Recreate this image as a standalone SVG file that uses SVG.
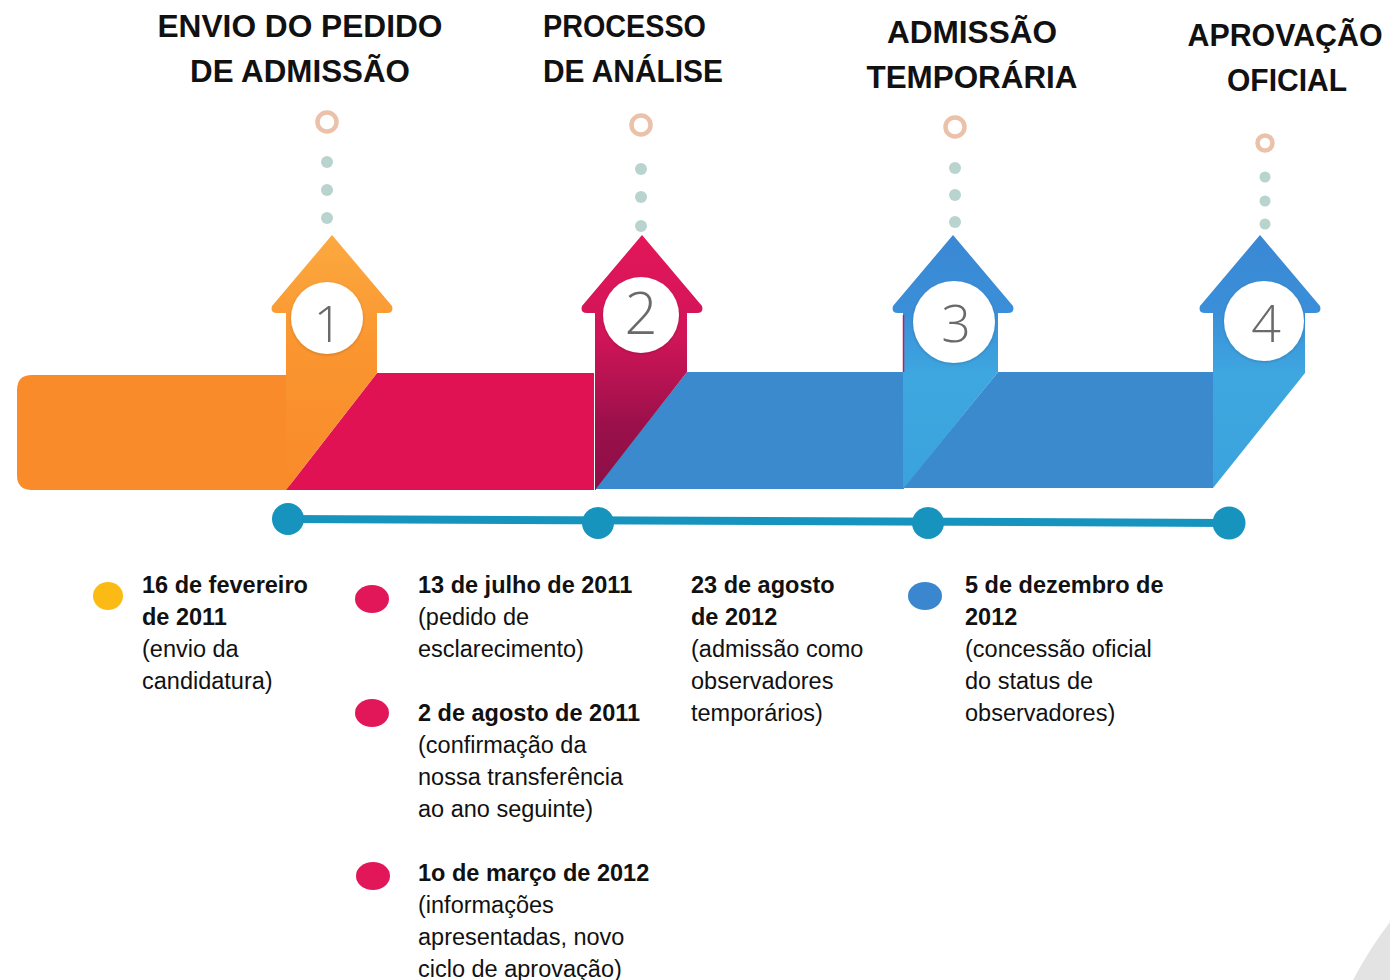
<svg xmlns="http://www.w3.org/2000/svg" width="1390" height="980" viewBox="0 0 1390 980">
<style>
.h{font-family:"Liberation Sans",Arial,sans-serif;font-weight:bold;font-size:31px;fill:#111;}
.b{font-family:"Liberation Sans",Arial,sans-serif;font-size:23.5px;fill:#111;}
.bb{font-weight:bold;}
.num{font-family:"Open Sans","Liberation Sans",sans-serif;font-weight:300;fill:#6a6a6a;text-anchor:middle;}
.ring{fill:none;stroke:#ecc1aa;stroke-width:4.5;}
.dot{fill:#b9d4ce;}
.nc{fill:#fff;filter:url(#sh);}
.td{fill:#1794bd;}
</style>
<defs>
<linearGradient id="gO" gradientUnits="userSpaceOnUse" x1="0" y1="235" x2="0" y2="490">
<stop offset="0" stop-color="#fca940"/><stop offset="0.45" stop-color="#fa952f"/><stop offset="1" stop-color="#f98a2a"/>
</linearGradient>
<linearGradient id="gP" gradientUnits="userSpaceOnUse" x1="0" y1="235" x2="0" y2="490">
<stop offset="0" stop-color="#e4165a"/><stop offset="0.4" stop-color="#d01558"/><stop offset="0.75" stop-color="#9a104a"/><stop offset="1" stop-color="#8c0f47"/>
</linearGradient>
<linearGradient id="gB" gradientUnits="userSpaceOnUse" x1="0" y1="235" x2="0" y2="490">
<stop offset="0" stop-color="#3a88d4"/><stop offset="0.3" stop-color="#3a8fd8"/><stop offset="0.55" stop-color="#3ea7e0"/><stop offset="1" stop-color="#3aa2dc"/>
</linearGradient>
<filter id="sh" x="-20%" y="-20%" width="140%" height="140%">
<feDropShadow dx="0" dy="1" stdDeviation="1.5" flood-color="#000" flood-opacity="0.18"/>
</filter>
</defs>

<g id="headings">
<text class="h" x="300" y="37" text-anchor="middle" textLength="285" lengthAdjust="spacingAndGlyphs">ENVIO DO PEDIDO</text>
<text class="h" x="300" y="82" text-anchor="middle" textLength="220" lengthAdjust="spacingAndGlyphs">DE ADMISSÃO</text>
<text class="h" x="543" y="37" textLength="163" lengthAdjust="spacingAndGlyphs">PROCESSO</text>
<text class="h" x="543" y="82" textLength="180" lengthAdjust="spacingAndGlyphs">DE ANÁLISE</text>
<text class="h" x="972" y="43" text-anchor="middle" textLength="170" lengthAdjust="spacingAndGlyphs">ADMISSÃO</text>
<text class="h" x="972" y="88" text-anchor="middle" textLength="211" lengthAdjust="spacingAndGlyphs">TEMPORÁRIA</text>
<text class="h" x="1285" y="46" text-anchor="middle" textLength="195" lengthAdjust="spacingAndGlyphs">APROVAÇÃO</text>
<text class="h" x="1287" y="91" text-anchor="middle" textLength="120" lengthAdjust="spacingAndGlyphs">OFICIAL</text>
</g>

<g id="bands">
<path d="M32,375 H290 V490 H32 Q17,490 17,475 V390 Q17,375 32,375 Z" fill="#f98b2b"/>
<path d="M377,373 H596 V490 H286 Z" fill="#e01254"/>
<path d="M687,372 H904 V489 H595 Z" fill="#3a8acd"/>
<path d="M998,372 H1213 V488 H903 Z" fill="#3a8acd"/>
</g>

<g id="connectors">
<line x1="288" y1="519" x2="1229" y2="523" stroke="#1794bd" stroke-width="8"/>
</g>

<g id="step1">
<circle class="ring" cx="327" cy="122" r="9.5"/>
<circle class="dot" cx="327" cy="162" r="6"/>
<circle class="dot" cx="327" cy="190" r="6"/>
<circle class="dot" cx="327" cy="218" r="6"/>
<path d="M332,235 L392,306 Q394,313 387,313 L377,313 L377,373 L286,490 L286,313 L277,313 Q270,313 272,306 Z" fill="url(#gO)"/>
<circle class="nc" cx="327" cy="318" r="36"/>
<text class="num" x="328" y="342" font-size="50">1</text>
<circle class="td" cx="288" cy="519" r="16"/>
</g>

<g id="step2">
<circle class="ring" cx="641" cy="125" r="9.5"/>
<circle class="dot" cx="641" cy="169" r="6"/>
<circle class="dot" cx="641" cy="197" r="6"/>
<circle class="dot" cx="641" cy="226" r="6"/>
<path d="M642,235 L702,306 Q704,313 697,313 L687,313 L687,372 L595,490 L595,313 L587,313 Q580,313 582,306 Z" fill="url(#gP)"/>
<line x1="594.5" y1="373" x2="594.5" y2="490" stroke="#fff" stroke-width="1"/>
<circle class="nc" cx="641" cy="315" r="38"/>
<text class="num" x="641" y="334" font-size="58">2</text>
<circle class="td" cx="598" cy="523" r="16"/>
</g>

<g id="step3">
<circle class="ring" cx="955" cy="127" r="9.5"/>
<circle class="dot" cx="955" cy="168" r="6"/>
<circle class="dot" cx="955" cy="195" r="6"/>
<circle class="dot" cx="955" cy="222" r="6"/>
<path d="M953,235 L1013,306 Q1015,313 1008,313 L998,313 L998,372 L903,489 L903,313 L898,313 Q891,313 893,306 Z" fill="url(#gB)"/>
<line x1="903.5" y1="315" x2="903.5" y2="372" stroke="#d0145a" stroke-width="1.5"/>
<circle class="nc" cx="954" cy="322" r="41"/>
<text class="num" x="956" y="342" font-size="52">3</text>
<circle class="td" cx="928" cy="523" r="16"/>
</g>

<g id="step4">
<circle class="ring" cx="1265" cy="143" r="7.5" stroke-width="4"/>
<circle class="dot" cx="1265" cy="177" r="5.5"/>
<circle class="dot" cx="1265" cy="201" r="5.5"/>
<circle class="dot" cx="1265" cy="224" r="5.5"/>
<path d="M1260,235 L1320,306 Q1322,313 1315,313 L1305,313 L1305,373 L1213,488 L1213,313 L1205,313 Q1198,313 1200,306 Z" fill="url(#gB)"/>
<circle class="nc" cx="1264" cy="321" r="40"/>
<text class="num" x="1266" y="342" font-size="52">4</text>
<circle class="td" cx="1229" cy="523" r="16.5"/>
</g>

<g id="event1">
<ellipse cx="108" cy="596" rx="15" ry="14" fill="#fbbb14"/>
<text class="b" x="142" y="593"><tspan class="bb">16 de fevereiro</tspan><tspan class="bb" x="142" dy="32">de 2011</tspan><tspan x="142" dy="32">(envio da</tspan><tspan x="142" dy="32">candidatura)</tspan></text>
</g>

<g id="event2">
<ellipse cx="372" cy="599" rx="17" ry="14" fill="#e2175a"/>
<text class="b" x="418" y="593"><tspan class="bb">13 de julho de 2011</tspan><tspan x="418" dy="32">(pedido de</tspan><tspan x="418" dy="32">esclarecimento)</tspan></text>
</g>

<g id="event3">
<ellipse cx="372" cy="713" rx="17" ry="14" fill="#e2175a"/>
<text class="b" x="418" y="721"><tspan class="bb">2 de agosto de 2011</tspan><tspan x="418" dy="32">(confirmação da</tspan><tspan x="418" dy="32">nossa transferência</tspan><tspan x="418" dy="32">ao ano seguinte)</tspan></text>
</g>

<g id="event4">
<ellipse cx="373" cy="876" rx="17" ry="14" fill="#e2175a"/>
<text class="b" x="418" y="881"><tspan class="bb">1o de março de 2012</tspan><tspan x="418" dy="32">(informações</tspan><tspan x="418" dy="32">apresentadas, novo</tspan><tspan x="418" dy="32">ciclo de aprovação)</tspan></text>
</g>

<g id="event5">
<text class="b" x="691" y="593"><tspan class="bb">23 de agosto</tspan><tspan class="bb" x="691" dy="32">de 2012</tspan><tspan x="691" dy="32">(admissão como</tspan><tspan x="691" dy="32">observadores</tspan><tspan x="691" dy="32">temporários)</tspan></text>
</g>

<g id="event6">
<ellipse cx="925" cy="596" rx="17" ry="14" fill="#3a87d0"/>
<text class="b" x="965" y="593"><tspan class="bb">5 de dezembro de</tspan><tspan class="bb" x="965" dy="32">2012</tspan><tspan x="965" dy="32">(concessão oficial</tspan><tspan x="965" dy="32">do status de</tspan><tspan x="965" dy="32">observadores)</tspan></text>
</g>

<path d="M1353,980 Q1370,948 1390,922 V980 Z" fill="#e3e3e3"/>
</svg>
